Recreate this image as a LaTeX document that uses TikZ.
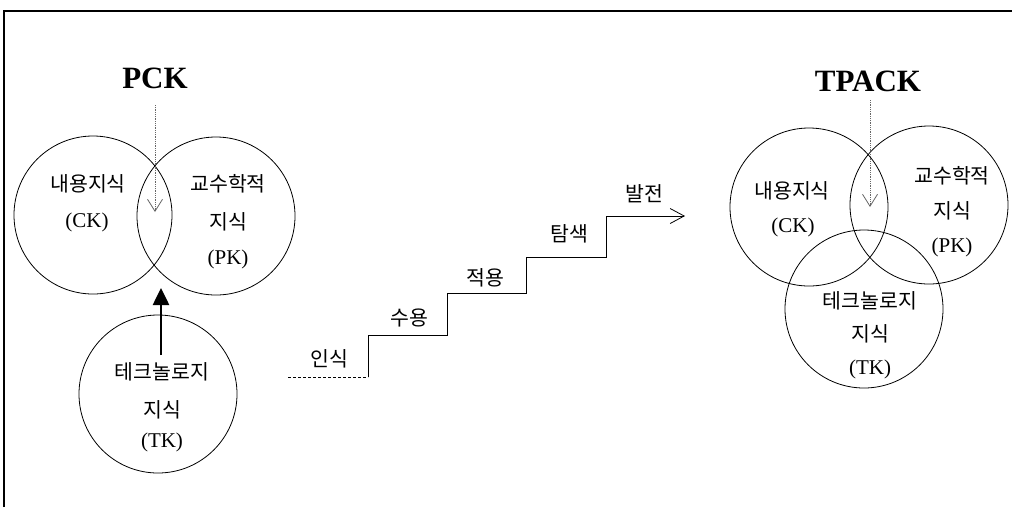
\documentclass[tikz,border=0pt]{standalone}
\usepackage{fontspec}
\setmainfont{Liberation Serif}
\newfontfamily\kr{Noto Sans CJK KR}
\usetikzlibrary{arrows.meta}

\begin{document}
\begin{tikzpicture}[x=1pt, y=-1pt,
    every node/.style={font=\kr\fontsize{20.5}{22}\selectfont, inner sep=0pt},
    lat/.style={font=\fontsize{21}{23}\selectfont},
    ttl/.style={font=\bfseries\fontsize{31}{33}\selectfont},
    know/.style={circle, draw, line width=0.8pt, minimum size=158pt},
    hint/.style={densely dotted, black!60, line width=0.8pt, -{Straight Barb[length=12pt, width=15pt]}}]
  \useasboundingbox (0,0) rectangle (1012,507);
  % frame
  \draw[line width=1.3pt] (4,507) -- (4,11) -- (1012,11);

  % PCK side
  \node[ttl] (pck) at (155,78) {PCK};
  \node[know] (ck1) at (93,215) {};
  \node[know] (pk1) at (216,216) {};
  \node[know] (tk1) at (158,394) {};
  \node (ck1a) at (88,184) {내용지식};
  \node[lat] (ck1b) at (87,222) {(CK)};
  \node (pk1a) at (228,184) {교수학적};
  \node (pk1b) at (228,222) {지식};
  \node[lat] (pk1c) at (228,259) {(PK)};
  \node (tk1a) at (162,372) {테크놀로지};
  \node (tk1b) at (162,410) {지식};
  \node[lat] (tk1c) at (162,442) {(TK)};
  \coordinate (p1) at (155,105);
  \coordinate (p2) at (155,212);
  \draw[hint] (p1) -- (p2);
  \coordinate (u1) at (161,355);
  \coordinate (u2) at (161,288);
  \draw[line width=2.6pt, -{Triangle[length=17pt, width=16pt]}] (u1) -- (u2);

  % stairs
  \coordinate (st0) at (288,377);
  \coordinate (st1) at (368,377);
  \coordinate (st2) at (447,335);
  \coordinate (st3) at (526,293);
  \coordinate (st4) at (606,257);
  \coordinate (st5) at (685,216);
  \draw[densely dashed, line width=0.8pt] (st0) -- (st1);
  \draw[line width=0.8pt, -{Straight Barb[length=14pt, width=15pt]}]
    (st1) |- (st2) |- (st3) |- (st4) |- (st5);
  \node (s1) at (329,359) {인식};
  \node (s2) at (409,318) {수용};
  \node (s3) at (485,278) {적용};
  \node (s4) at (569,234) {탐색};
  \node (s5) at (644,194) {발전};

  % TPACK side
  \node[ttl] (tpack) at (868,81) {TPACK};
  \node[know] (ck2) at (809,207) {};
  \node[know] (pk2) at (929,205) {};
  \node[know] (tk2) at (864,309) {};
  \node (ck2a) at (792,191) {내용지식};
  \node[lat] (ck2b) at (793,227) {(CK)};
  \node (pk2a) at (952,176) {교수학적};
  \node (pk2b) at (952,211) {지식};
  \node[lat] (pk2c) at (952,247) {(PK)};
  \node (tk2a) at (870,301) {테크놀로지};
  \node (tk2b) at (870,334) {지식};
  \node[lat] (tk2c) at (870,369) {(TK)};
  \coordinate (q1) at (870,100);
  \coordinate (q2) at (870,207);
  \draw[hint] (q1) -- (q2);
\end{tikzpicture}
\end{document}
